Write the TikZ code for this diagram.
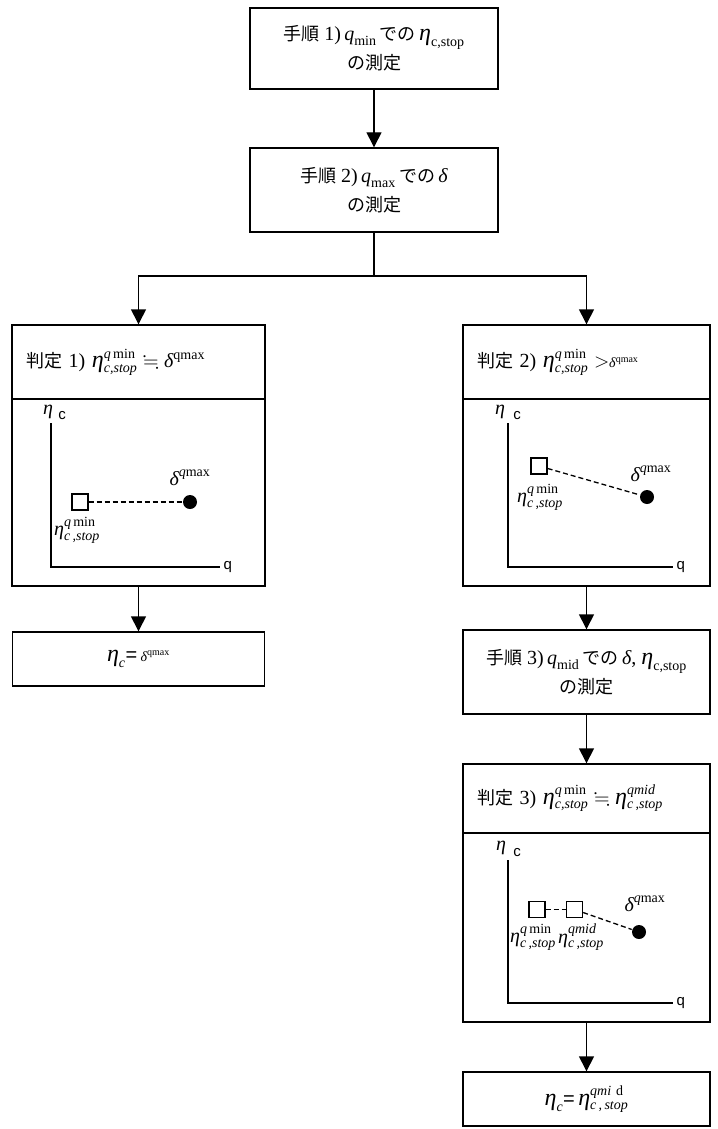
\RequirePackage{fix-cm}
\documentclass[tikz,border=0pt]{standalone}
\usepackage{amsmath}
\usepackage{amssymb}
\usepackage{graphicx}
\usepackage{fontspec}
\setmainfont{Liberation Serif}
\newfontfamily\jp{Noto Sans CJK JP}
\newfontfamily\arial{Liberation Sans}
\usetikzlibrary{arrows.meta}
\newcommand{\mI}[1]{\text{\itshape #1}}
\newcommand{\mR}[1]{\text{\upshape #1}}
\newcommand{\bEta}{\text{\itshape\scalebox{1.2}{η}}}
\newcommand{\etaqmin}{\bEta^{\mI{q}\,\mR{min}}_{\mI{c,stop}}}
\newcommand{\etaqminb}{\mI{η}^{\mI{q}\,\mR{min}}_{\mI{c\,,stop}}}
\newcommand{\etaqmid}{\bEta^{\mI{qmid}}_{\mI{c\,,stop}}}
\newcommand{\etaqmidb}{\mI{η}^{\mI{qmid}}_{\mI{c\,,stop}}}
\newcommand{\dqmax}{\mI{δ}^{\mR{qmax}}}
\newcommand{\dqmaxi}{\mI{δ}^{\mI{q}\mR{max}}}
\begin{document}
\begin{tikzpicture}[x=1pt,y=-1pt,line width=1.4pt,
  txt/.style={font=\fontsize{20}{29}\selectfont},
  box/.style={draw,rectangle,inner sep=0pt,align=center,txt},
  titlebox/.style={draw,rectangle,inner ysep=0pt,inner xsep=14pt,align=left,txt},
  plotbox/.style={draw,rectangle,inner sep=0pt},
  arr/.style={-{Triangle[length=15pt,width=15pt]}},
  sq/.style={draw,rectangle,minimum size=16pt,inner sep=0pt,line width=1.3pt},
  dot/.style={circle,fill,minimum size=14pt,inner sep=0pt},
  dline/.style={dashed,dash pattern=on 5pt off 3pt,line width=1.3pt},
  axis/.style={line width=1.3pt},
  lbl/.style={inner sep=0pt,font=\fontsize{20}{20}\selectfont},
  sml/.style={inner sep=0pt,font=\arial\fontsize{15}{15}\selectfont}]
\useasboundingbox (0,0) rectangle (717,1129);

% top steps
\node[box,minimum width=248pt,minimum height=81pt] (b1) at (374,48.5)
  {{\jp\fontsize{18}{29}\selectfont 手順} 1)\,$\mI{q}_{\mR{min}}$\,{\jp\fontsize{18}{29}\selectfont での}\,$\bEta_{\mR{c,stop}}$\\{\jp\fontsize{18}{29}\selectfont の測定}};
\node[box,minimum width=248pt,minimum height=84pt] (b2) at (374,190)
  {{\jp\fontsize{18}{29}\selectfont 手順} 2)\,$\mI{q}_{\mR{max}}$\,{\jp\fontsize{18}{29}\selectfont での}\,$\mI{δ}$\\{\jp\fontsize{18}{29}\selectfont の測定}};
\draw[arr] (b1) -- (b2);

\coordinate (br) at (374,276);
\draw (b2.south) -- (br);

% left judge
\node[titlebox,minimum width=253pt,minimum height=74pt,text width=225pt] (j1t) at (138.5,362)
  {{\jp\fontsize{18}{29}\selectfont 判定} 1) $\etaqmin\fallingdotseq\dqmax$};
\node[plotbox,minimum width=253pt,minimum height=187pt] (j1p) at (138.5,492.5) {};
\node[box,minimum width=252pt,minimum height=54pt] (r1) at (138.5,659)
  {$\bEta_{\mI{c}}${\arial =}\,$\scriptstyle\dqmax$};
\draw[arr] (br) -| (j1t.north);
\draw[arr] (j1p) -- (r1);

% plot 1
\draw[axis] (51,423) -- (51,567) -- (220,567);
\node[sml,anchor=west] (q1) at (223,567) {q};
\node[lbl] (e1) at (48,412) {\itshape η};
\node[sml] (c1l) at (62,416) {c};
\node[sq] (s1) at (80,502) {};
\node[dot] (d1) at (190,502) {};
\draw[dline] (s1) -- (d1);
\node[lbl] (dl1) at (190,478) {$\dqmaxi$};
\node[lbl] (el1) at (77,530) {$\etaqminb$};

% right judge
\node[titlebox,minimum width=247pt,minimum height=74pt,text width=219pt] (j2t) at (586.5,362)
  {{\jp\fontsize{18}{29}\selectfont 判定} 2) $\etaqmin > \scriptstyle\dqmax$};
\node[plotbox,minimum width=247pt,minimum height=187pt] (j2p) at (586.5,492.5) {};
\draw[arr] (br) -| (j2t.north);

% plot 2
\draw[axis] (508,423) -- (508,567) -- (673,567);
\node[sml,anchor=west] (q2) at (676,567) {q};
\node[lbl] (e2) at (500,412) {\itshape η};
\node[sml] (c2l) at (517,416) {c};
\node[sq] (s2) at (539,466) {};
\node[dot] (d2) at (647,497) {};
\draw[dline] (s2) -- (d2);
\node[lbl] (dl2) at (651,474) {$\dqmaxi$};
\node[lbl] (el2) at (540,497) {$\etaqminb$};

% step 3
\node[box,minimum width=247pt,minimum height=84pt] (b3) at (586.5,672)
  {{\jp\fontsize{18}{29}\selectfont 手順} 3)\,$\mI{q}_{\mR{mid}}$\,{\jp\fontsize{18}{29}\selectfont での}\,$\mI{δ}$, $\bEta_{\mR{c,stop}}$\\{\jp\fontsize{18}{29}\selectfont の測定}};
\draw[arr] (j2p) -- (b3);

% judge 3
\node[titlebox,minimum width=247pt,minimum height=69pt,text width=219pt] (j3t) at (586.5,798.5)
  {{\jp\fontsize{18}{29}\selectfont 判定} 3) $\etaqmin\fallingdotseq\etaqmid$};
\node[plotbox,minimum width=247pt,minimum height=189pt] (j3p) at (586.5,927.5) {};
\draw[arr] (b3) -- (j3t);

% plot 3
\draw[axis] (508,860) -- (508,1003) -- (673,1003);
\node[sml,anchor=west] (q3) at (676,1003) {q};
\node[lbl] (e3) at (501,848) {\itshape η};
\node[sml] (c3l) at (517,853) {c};
\node[sq] (s3) at (537,909.5) {};
\node[sq] (s4) at (574.5,909.5) {};
\node[dot] (d3) at (639,932) {};
\draw[dline] (s3) -- (s4);
\draw[dline] (s4) -- (d3);
\node[lbl] (dl3) at (645,904) {$\dqmaxi$};
\node[lbl] (el3) at (533,937) {$\etaqminb$};
\node[lbl] (el4) at (581,937) {$\etaqmidb$};

% result 2
\node[box,minimum width=247pt,minimum height=54pt] (r2) at (586.5,1099)
  {$\bEta_{\mI{c}}${\arial =}\,$\bEta^{\mI{qmi}\ \mR{d}}_{\mI{c\,,\,stop}}$};
\draw[arr] (j3p) -- (r2);
\end{tikzpicture}
\end{document}
